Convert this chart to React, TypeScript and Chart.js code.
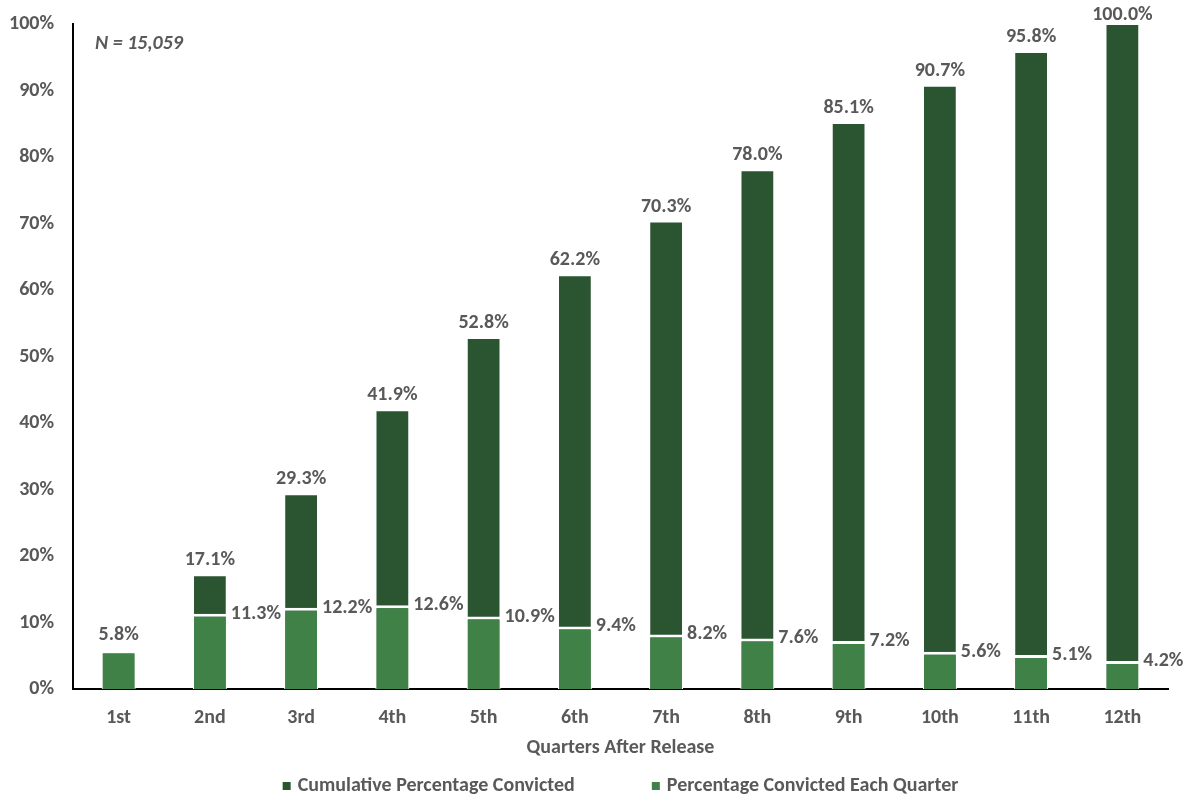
import React, { useEffect, useRef } from 'react';
import { Chart, registerables } from 'chart.js';

Chart.register(...registerables);

const quarters = ['1st', '2nd', '3rd', '4th', '5th', '6th', '7th', '8th', '9th', '10th', '11th', '12th'];
const cumulativePct = [5.8, 17.1, 29.3, 41.9, 52.8, 62.2, 70.3, 78.0, 85.1, 90.7, 95.8, 100.0];
const quarterlyPct = [5.8, 11.3, 12.2, 12.6, 10.9, 9.4, 8.2, 7.6, 7.2, 5.6, 5.1, 4.2];
const seriesNames = ['Cumulative Percentage Convicted', 'Percentage Convicted Each Quarter'];
const xTitle = 'Quarters After Release';
const nLabel = 'N = 15,059';

const FONT = 'Carlito, Lato, "Open Sans", sans-serif';
const FS = 20;
const GRAY = '#595959';
const DARK = '#2B5431';
const LIGHT = '#3F8147';

const overlay = {
  id: 'overlay',
  afterDatasetsDraw(chart: any) {
    const ctx = chart.ctx;
    const area = chart.chartArea;
    ctx.save();
    ctx.fillStyle = GRAY;
    ctx.font = `bold ${FS}px ${FONT}`;
    const cm = chart.getDatasetMeta(0);
    cm.data.forEach((bar: any, i: number) => {
      ctx.textAlign = 'center';
      ctx.textBaseline = 'middle';
      ctx.fillText(cumulativePct[i].toFixed(1) + '%', bar.x, Math.max(bar.y - 15, 15));
    });
    const qm = chart.getDatasetMeta(1);
    qm.data.forEach((bar: any, i: number) => {
      if (quarterlyPct[i] === cumulativePct[i]) return;
      ctx.textAlign = 'left';
      ctx.textBaseline = 'middle';
      ctx.fillText(quarterlyPct[i].toFixed(1) + '%', bar.x + bar.width / 2 + 4, bar.y);
    });
    // N label
    ctx.font = `italic bold ${FS}px ${FONT}`;
    ctx.textAlign = 'left';
    ctx.textBaseline = 'middle';
    ctx.fillText(nLabel, area.left + 22, area.top + 20);
    // axis title
    const cx = (area.left + area.right) / 2;
    ctx.font = `bold ${FS}px ${FONT}`;
    ctx.textAlign = 'center';
    ctx.fillText(xTitle, cx, area.bottom + 59);
    // legend
    const box = 8, gapText = 7, gapItems = 77;
    const widths = seriesNames.map((s) => ctx.measureText(s).width);
    const total = widths[0] + widths[1] + 2 * (box + gapText) + gapItems;
    let x = cx - total / 2;
    const ly = area.bottom + 97;
    const cols = [DARK, LIGHT];
    ctx.textAlign = 'left';
    seriesNames.forEach((s, i) => {
      ctx.fillStyle = cols[i];
      ctx.fillRect(x, ly - box / 2, box, box);
      x += box + gapText;
      ctx.fillStyle = GRAY;
      ctx.fillText(s, x, ly);
      x += widths[i] + gapItems;
    });
    ctx.restore();
  },
};

export default function App() {
  const ref = useRef<HTMLCanvasElement>(null);
  useEffect(() => {
    document.body.style.margin = '0';
    const chart = new Chart(ref.current as HTMLCanvasElement, {
      type: 'bar',
      data: {
        labels: quarters,
        datasets: [
          {
            label: seriesNames[0],
            data: cumulativePct,
            backgroundColor: DARK,
            borderColor: 'rgba(255,255,255,0.85)',
            borderWidth: { top: 1, left: 1, right: 1, bottom: 0 },
            grouped: false,
            order: 1,
          } as any,
          {
            label: seriesNames[1],
            data: quarterlyPct,
            backgroundColor: LIGHT,
            borderColor: '#ffffff',
            borderWidth: { top: 3, left: 1, right: 1, bottom: 0 },
            grouped: false,
            order: 0,
          } as any,
        ],
      },
      options: {
        responsive: false,
        animation: false,
        barPercentage: 0.37,
        categoryPercentage: 1,
        layout: { padding: { top: 24, right: 20, bottom: 0, left: 0 } },
        plugins: { legend: { display: false }, tooltip: { enabled: false } },
        scales: {
          x: {
            grid: { display: false, drawTicks: false },
            border: { color: '#000', width: 2 },
            ticks: { font: { family: FONT, size: FS, weight: 'bold' }, color: GRAY, padding: 17 },
            afterFit(s: any) { s.height = 109; s.paddingLeft = 0; s.paddingRight = 0; },
          },
          y: {
            min: 0,
            max: 100,
            grid: { display: false, drawTicks: false },
            border: { color: '#000', width: 2 },
            ticks: {
              stepSize: 10,
              callback: (v: any) => v + '%',
              font: { family: FONT, size: FS, weight: 'bold' },
              color: GRAY,
              padding: 19,
            },
            afterFit(s: any) { s.width = 73; s.paddingTop = 0; s.paddingBottom = 0; },
          },
        },
      } as any,
      plugins: [overlay],
    });
    return () => chart.destroy();
  }, []);
  return (
    <div style={{ width: 1188, height: 798 }}>
      <canvas ref={ref} width={1188} height={798} />
    </div>
  );
}
